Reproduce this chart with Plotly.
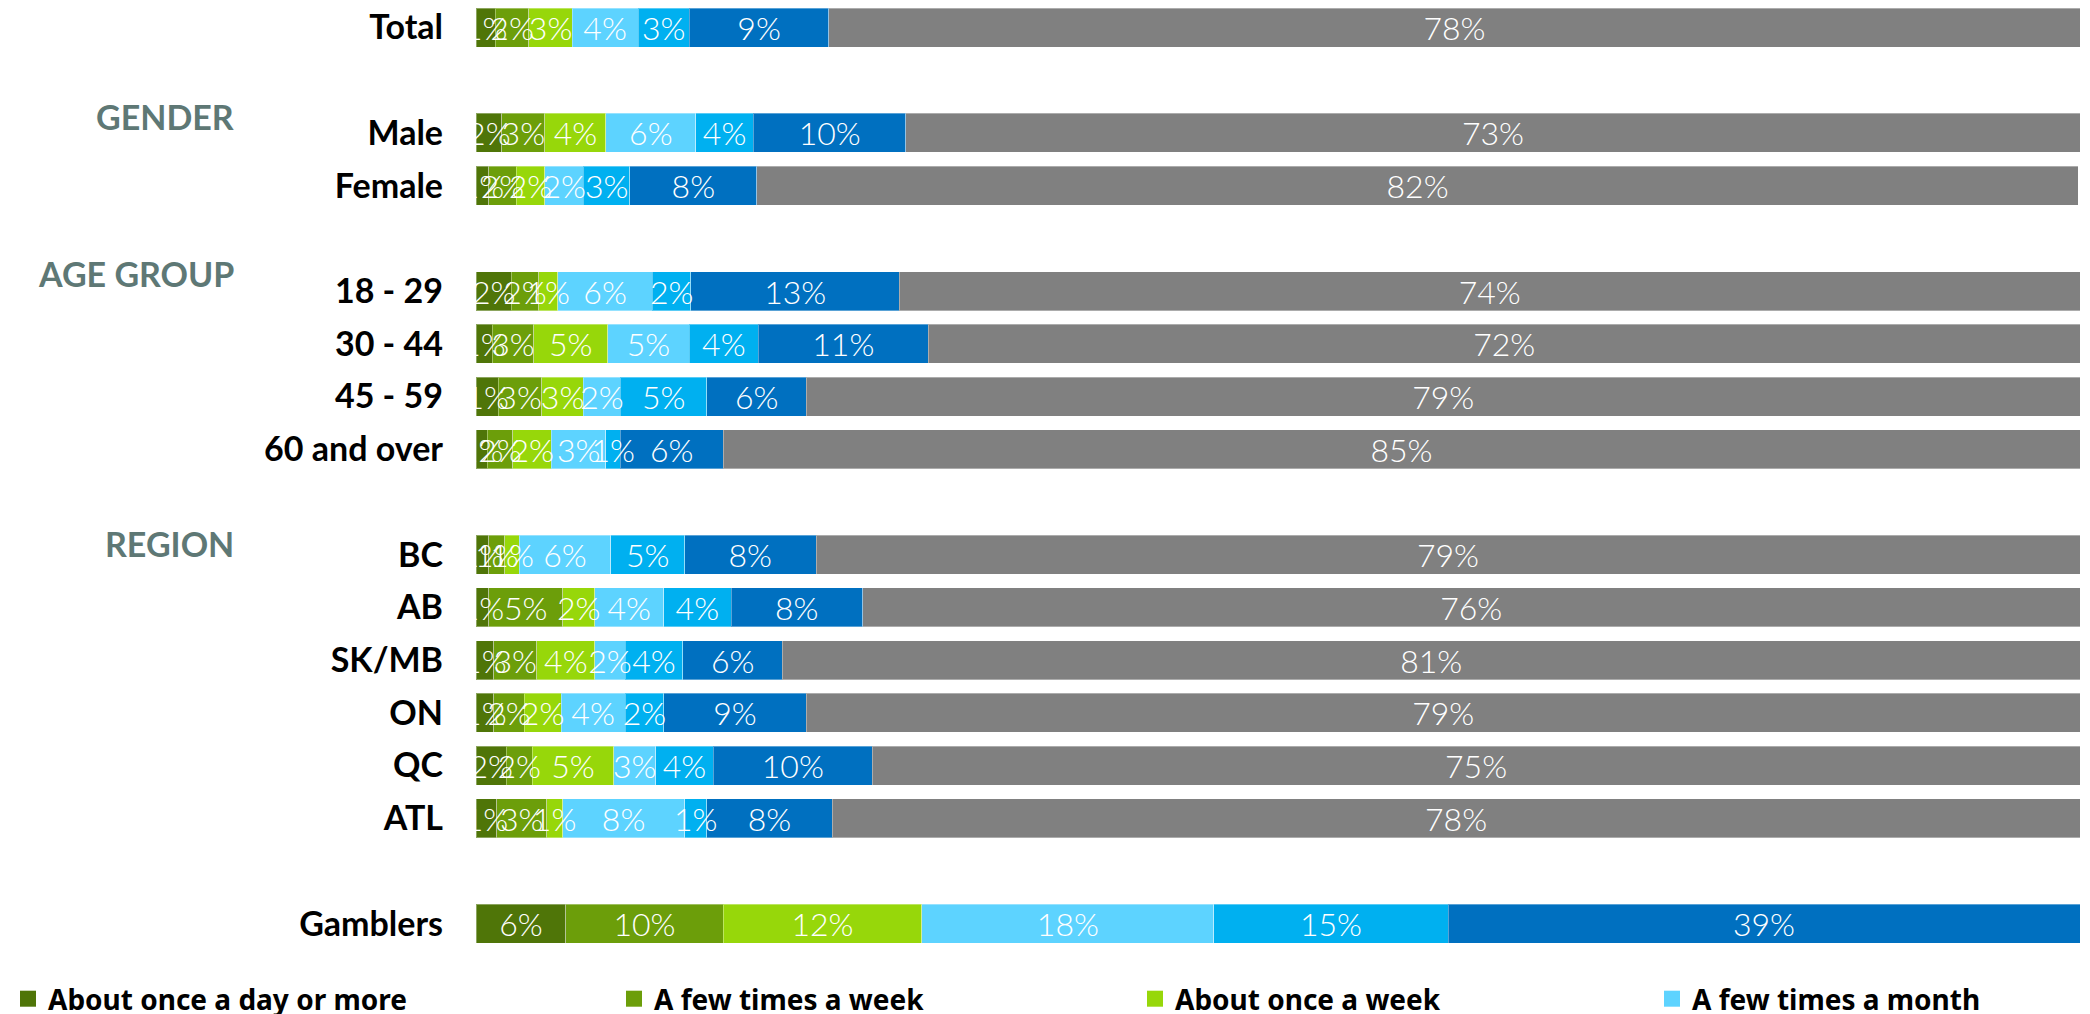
import plotly.graph_objects as go

# ---------------- data ----------------
categories = ["Total", "Male", "Female", "18 - 29", "30 - 44", "45 - 59", "60 and over",
              "BC", "AB", "SK/MB", "ON", "QC", "ATL", "Gamblers"]
# display order including blank spacer rows
row_order = ["Total", " ", "Male", "Female", "  ", "18 - 29", "30 - 44", "45 - 59", "60 and over",
             "   ", "BC", "AB", "SK/MB", "ON", "QC", "ATL", "    ", "Gamblers"]

series_names = ["About once a day or more", "A few times a week", "About once a week",
                "A few times a month", "About once a month", "Less than once a month", "Never"]

once_a_day     = [1.2, 1.6, 0.8, 2.2, 1.0, 1.4, 0.7, 0.8, 0.8, 1.1, 1.1, 1.9, 1.3, 5.6]
few_week       = [2.1, 2.7, 1.7, 1.7, 2.6, 2.7, 1.6, 1.0, 4.6, 2.7, 1.9, 1.6, 3.1, 9.8]
once_week      = [2.7, 3.8, 1.8, 1.2, 4.6, 2.6, 2.4, 0.9, 2.0, 3.6, 2.3, 5.1, 1.0, 12.4]
few_month      = [4.1, 5.6, 2.4, 5.9, 5.1, 2.3, 3.4, 5.7, 4.3, 1.9, 4.0, 2.6, 7.6, 18.2]
once_month     = [3.2, 3.6, 2.9, 2.4, 4.3, 5.4, 0.9, 4.6, 4.2, 3.6, 2.4, 3.6, 1.4, 14.6]
less_often     = [8.7, 9.5, 7.9, 13.0, 10.6, 6.2, 6.4, 8.2, 8.2, 6.2, 8.9, 9.9, 7.8, 39.4]
never          = [78.0, 73.2, 82.4, 73.6, 71.8, 79.4, 84.6, 78.8, 75.9, 80.9, 79.4, 75.3, 77.8, 0.0]

series_values = [once_a_day, few_week, once_week, few_month, once_month, less_often, never]

section_headers = ["GENDER", "AGE GROUP", "REGION"]
section_rows = ["Male", "18 - 29", "BC"]

# ---------------- styling ----------------
colors = ["#4F7508", "#6C9E0A", "#97D70A", "#5DD3FF", "#00B0F0", "#0070C0", "#808080"]
legend_ids = ["legend", "legend2", "legend3", "legend4"]
legend_left_px = [-6, 606, 1127, 1644]      # figure pixels
header_yshift = [16, 18, 11]

W, H = 2090, 1014
ML, MR, MT, MB = 468, 18, 0, 71.5           # page body offsets the figure by 8 px
PW = W - ML - MR
PH = H - MT - MB
TOP_VALUE = -0.37                           # category-axis value at the top edge of the plot

def px_to_paper_x(px):
    return (px - ML) / PW

fig = go.Figure()

# coloured segments (no text)
for name, vals, col in zip(series_names, series_values, colors):
    fig.add_trace(go.Bar(
        name=name, y=categories, x=vals, orientation="h",
        marker=dict(color=col, line=dict(width=1, color="rgba(255,255,255,0.35)")),
        xaxis="x", yaxis="y", hoverinfo="skip", showlegend=False))

# text layer on an overlaid axis, so labels sit above every segment
for name, vals in zip(series_names, series_values):
    labels = [f"{v:.0f}%" if v > 0 else "" for v in vals]
    fig.add_trace(go.Bar(
        name=name, y=categories, x=vals, orientation="h",
        marker=dict(color="rgba(0,0,0,0)", line=dict(width=0)),
        text=labels, textposition="inside", insidetextanchor="middle", textangle=0,
        textfont=dict(color="white", size=32, family="Lato", weight=300),
        cliponaxis=True, xaxis="x2", yaxis="y", showlegend=False, hoverinfo="skip"))

# legend entries (first four categories are visible in the chart's legend row)
for name, col, lg in zip(series_names, colors, legend_ids):
    fig.add_trace(go.Scatter(
        name=name, x=[None], y=[None], mode="markers",
        marker=dict(symbol="square", size=16, color=col),
        legend=lg, showlegend=True, hoverinfo="skip"))

for hdr, row, ys in zip(section_headers, section_rows, header_yshift):
    fig.add_annotation(
        text=hdr, xref="paper", yref="y", x=px_to_paper_x(228), y=row,
        xanchor="right", yanchor="middle", yshift=ys, showarrow=False,
        font=dict(family="Lato", size=34, color="#5E7875", weight="bold"))

legend_common = dict(orientation="h", xref="container", yref="container",
                     yanchor="middle", y=1 - 991 / H, xanchor="left",
                     itemsizing="trace",
                     bgcolor="rgba(0,0,0,0)", borderwidth=0,
                     font=dict(family="Noto Sans", size=28, color="black", weight="bold"))

fig.update_layout(
    width=W, height=H,
    margin=dict(l=ML, r=MR, t=MT, b=MB, pad=0, autoexpand=False),
    barmode="stack", bargap=0.26,
    plot_bgcolor="white", paper_bgcolor="white",
    uniformtext=dict(minsize=32, mode="show"),
    xaxis=dict(range=[0, 100], visible=False, fixedrange=True, automargin=False),
    xaxis2=dict(range=[0, 100], visible=False, overlaying="x", matches="x", automargin=False),
    yaxis=dict(type="category", categoryorder="array", categoryarray=row_order,
               range=[len(row_order) - 0.5, TOP_VALUE], showgrid=False, zeroline=False,
               showline=False, ticks="", ticklabelstandoff=32, automargin=False,
               tickfont=dict(family="Lato", size=34, color="black", weight="bold")),
    legend=dict(x=legend_left_px[0] / W, **legend_common),
    legend2=dict(x=legend_left_px[1] / W, **legend_common),
    legend3=dict(x=legend_left_px[2] / W, **legend_common),
    legend4=dict(x=legend_left_px[3] / W, **legend_common),
    showlegend=True,
)

fig.write_html("out.html")
